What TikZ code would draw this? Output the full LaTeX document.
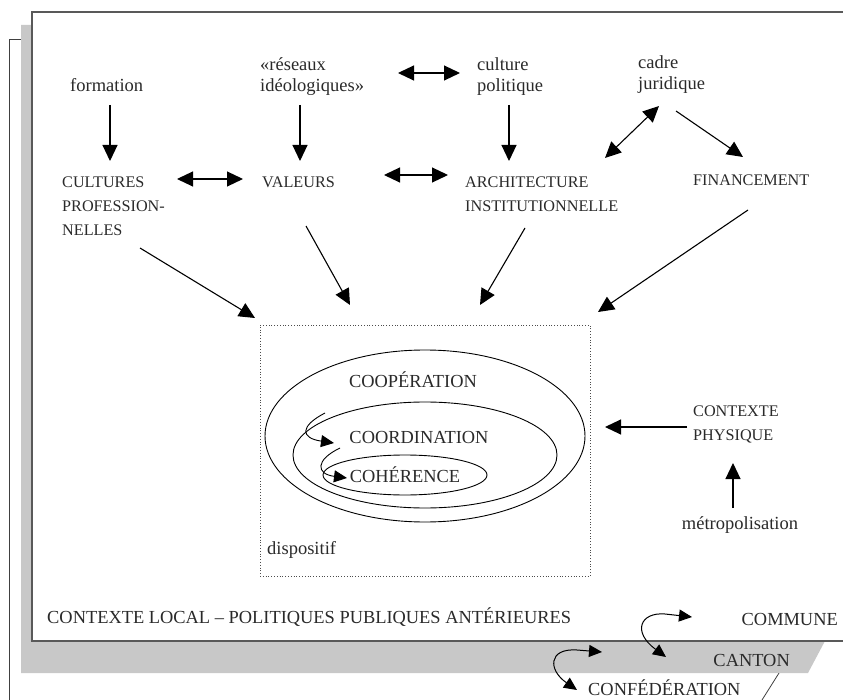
\documentclass[tikz,border=0pt]{standalone}
\usepackage{fontspec}
\setmainfont{Liberation Serif}
\usetikzlibrary{arrows.meta}
\definecolor{pagegray}{HTML}{C8C8C8}
\definecolor{txtgray}{HTML}{2A2A2A}
\begin{document}
\begin{tikzpicture}[x=1pt,y=-1pt,
  txt/.style={inner sep=0pt,text=txtgray},
  lc/.style={txt,font=\fontsize{18.5}{21}\selectfont},
  uc/.style={txt,font=\fontsize{16.2}{24}\selectfont},
  bc/.style={txt,font=\fontsize{18.4}{22}\selectfont},
  big/.tip={Triangle[length=16pt,width=15pt]},
  small/.tip={Triangle[length=13pt,width=12pt]},
  arr/.style={line width=1.1pt,-big},
  darr/.style={line width=1.1pt,big-big},
  curl/.style={line width=0.9pt,-small},
  dcurl/.style={line width=1pt,small-small},
  ell/.style={line width=0.9pt}]
\useasboundingbox (0,0) rectangle (843,700);
% back page (Confederation)
\draw[line width=0.8pt,black!75] (21,39) -- (9,39) -- (9,700);
\draw[line width=0.8pt,black!75] (779,673) -- (762,700);
% middle page (Canton)
\fill[pagegray] (21,25) -- (843,25) -- (843,607) -- (808,673) -- (21,673) -- cycle;
% front page (Commune)
\fill[white] (32,12) rectangle (843,641);
\draw[line width=2pt,black!65] (843,12) -- (32,12) -- (32,641) -- (843,641);

% top nodes
\node[lc,anchor=west] (form) at (70,85) {formation};
\node[lc,anchor=west,align=left] (res) at (260,77) {«réseaux\\idéologiques»};
\node[lc,anchor=west,align=left] (cult) at (477,77) {culture\\politique};
\node[lc,anchor=west,align=left] (cadre) at (638,75) {cadre\\juridique};
\node[uc,anchor=west,align=left] (cp) at (62,206) {CULTURES\\PROFESSION-\\NELLES};
\node[uc,anchor=west] (val) at (262,182) {VALEURS};
\node[uc,anchor=west,align=left] (arch) at (465,194) {ARCHITECTURE\\INSTITUTIONNELLE};
\node[uc,anchor=west] (fin) at (693,180) {FINANCEMENT};
\node[uc,anchor=west,align=left] (ctx) at (693,424) {CONTEXTE\\PHYSIQUE};
\node[lc] (metro) at (740,525) {métropolisation};

% dispositif
\node[draw=black!70,dotted,line width=0.8pt,minimum width=330pt,minimum height=251pt,inner sep=0pt] (disp) at (425,450.5) {};
\node[lc,anchor=west] (displ) at (267,550) {dispositif};
\draw[ell] (425,436) ellipse [x radius=160pt,y radius=86pt];
\draw[ell] (425,455) ellipse [x radius=132pt,y radius=53pt];
\draw[ell] (405,475) ellipse [x radius=82pt,y radius=20pt];
\node[bc] (coop) at (413,380) {COOPÉRATION};
\node[bc] (coord) at (419,437) {COORDINATION};
\node[bc] (coh) at (405,475) {COHÉRENCE};

% bottom labels
\node[bc,anchor=west] (local) at (47,617) {CONTEXTE LOCAL – POLITIQUES PUBLIQUES ANTÉRIEURES};
\node[bc,anchor=east] (commune) at (838,619) {COMMUNE};
\node[bc,anchor=east] (canton) at (790,660) {CANTON};
\node[bc,anchor=west] (conf) at (588,688) {CONFÉDÉRATION};

% arrow end coordinates
\coordinate (a1s) at (110,105); \coordinate (a1e) at (110,161);
\coordinate (a2s) at (300,105); \coordinate (a2e) at (300,161);
\coordinate (a3s) at (509,105); \coordinate (a3e) at (509,161);
\coordinate (b1s) at (177,179); \coordinate (b1e) at (243,179);
\coordinate (b2s) at (384,175); \coordinate (b2e) at (448,175);
\coordinate (b3s) at (398,73);  \coordinate (b3e) at (460,73);
\coordinate (c1s) at (605,158); \coordinate (c1e) at (659,106);
\coordinate (c2s) at (676,111); \coordinate (c2e) at (743,157);
\coordinate (d1s) at (140,248); \coordinate (d1e) at (255,318);
\coordinate (d2s) at (306,226); \coordinate (d2e) at (350,305);
\coordinate (d3s) at (525,228); \coordinate (d3e) at (480,305);
\coordinate (d4s) at (748,210); \coordinate (d4e) at (598,312);
\coordinate (e1s) at (687,427); \coordinate (e1e) at (605,427);
\coordinate (e2s) at (733,508); \coordinate (e2e) at (733,463);

\draw[arr] (a1s) -- (a1e);
\draw[arr] (a2s) -- (a2e);
\draw[arr] (a3s) -- (a3e);
\draw[darr] (b1s) -- (b1e);
\draw[darr] (b2s) -- (b2e);
\draw[darr] (b3s) -- (b3e);
\draw[darr] (c1s) -- (c1e);
\draw[arr] (c2s) -- (c2e);
\draw[arr] (d1s) -- (d1e);
\draw[arr] (d2s) -- (d2e);
\draw[arr] (d3s) -- (d3e);
\draw[arr] (d4s) -- (d4e);
\draw[arr] (e1s) -- (e1e);
\draw[arr] (e2s) -- (e2e);

% curly arrows inside ellipses
\coordinate (f1s) at (325,413); \coordinate (f1e) at (334,443);
\coordinate (f2s) at (340,448); \coordinate (f2e) at (347,478);
\draw[curl] (f1s) .. controls (300,426) and (300,438) .. (f1e);
\draw[curl] (f2s) .. controls (315,460) and (316,474) .. (f2e);

% curly arrows between levels
\coordinate (g1a) at (692,617); \coordinate (g1b) at (666,657);
\coordinate (g2a) at (602,652); \coordinate (g2b) at (577,690);
\draw[dcurl] (g1a) -- (665,614) .. controls (640,612) and (632,632) .. (g1b);
\draw[dcurl] (g2a) -- (577,650) .. controls (548,648) and (548,670) .. (g2b);
\end{tikzpicture}
\end{document}
